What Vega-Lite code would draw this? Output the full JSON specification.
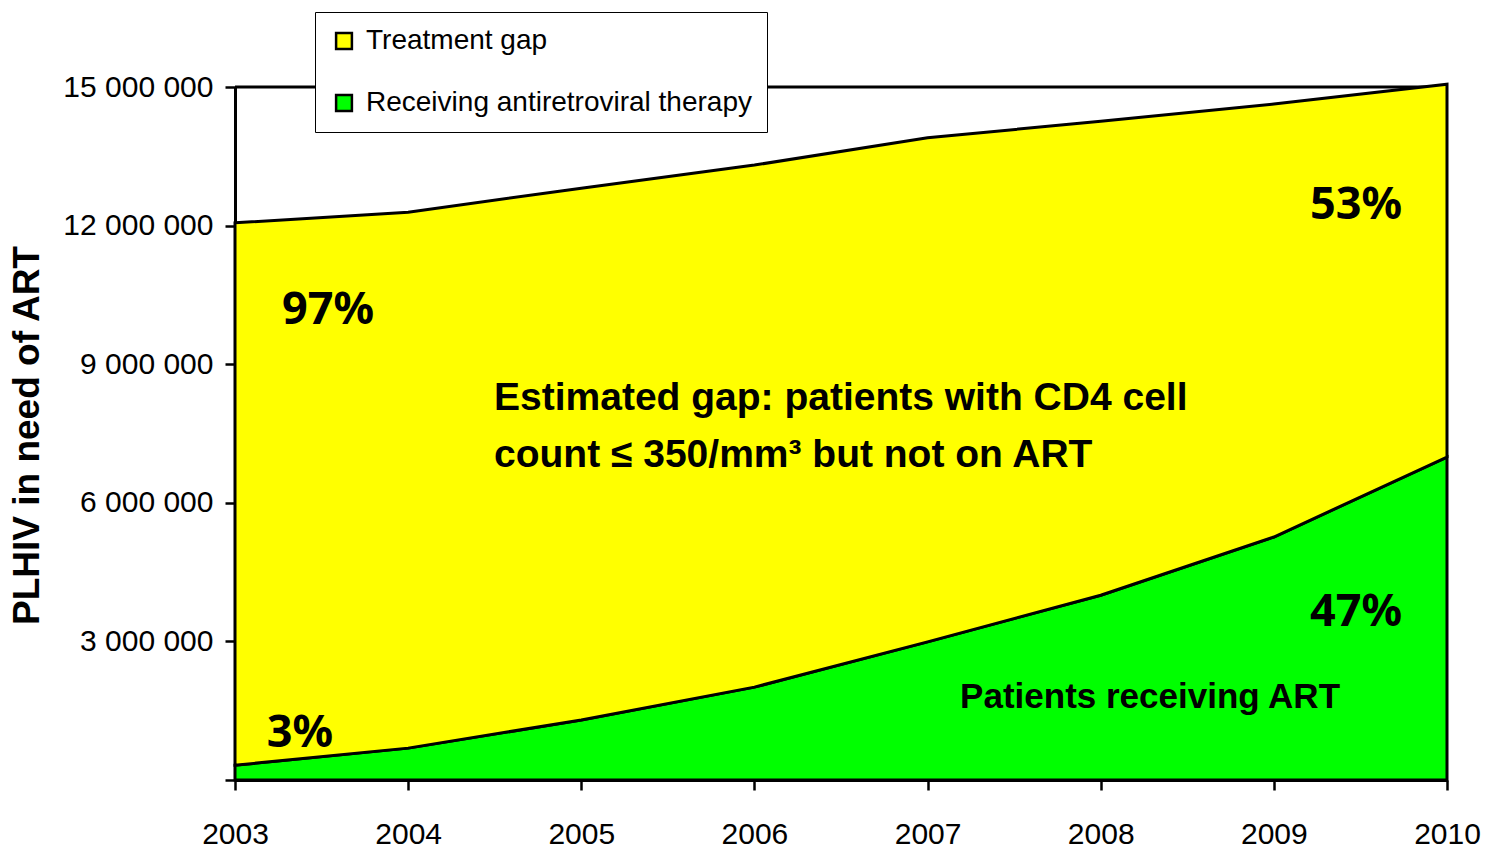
{
  "$schema": "https://vega.github.io/schema/vega-lite/v6.json",
  "width": 1212,
  "height": 693,
  "autosize": "none",
  "padding": {"left": 235, "top": 87, "right": 43, "bottom": 77},
  "background": "white",
  "config": {
    "view": {"stroke": null}
  },
  "datasets": {
    "coverage": [
      {"year": 2003, "series": "Receiving antiretroviral therapy", "value": 320000},
      {"year": 2004, "series": "Receiving antiretroviral therapy", "value": 690000},
      {"year": 2005, "series": "Receiving antiretroviral therapy", "value": 1300000},
      {"year": 2006, "series": "Receiving antiretroviral therapy", "value": 2010000},
      {"year": 2007, "series": "Receiving antiretroviral therapy", "value": 2990000},
      {"year": 2008, "series": "Receiving antiretroviral therapy", "value": 4000000},
      {"year": 2009, "series": "Receiving antiretroviral therapy", "value": 5260000},
      {"year": 2010, "series": "Receiving antiretroviral therapy", "value": 6990000},
      {"year": 2003, "series": "Treatment gap", "value": 11740000},
      {"year": 2004, "series": "Treatment gap", "value": 11600000},
      {"year": 2005, "series": "Treatment gap", "value": 11510000},
      {"year": 2006, "series": "Treatment gap", "value": 11300000},
      {"year": 2007, "series": "Treatment gap", "value": 10910000},
      {"year": 2008, "series": "Treatment gap", "value": 10260000},
      {"year": 2009, "series": "Treatment gap", "value": 9370000},
      {"year": 2010, "series": "Treatment gap", "value": 8070000}
    ],
    "percents": [
      {"year": 2003.537, "value": 10170000, "text": "97%"},
      {"year": 2003.375, "value": 1017000, "text": "3%"},
      {"year": 2009.474, "value": 12450000, "text": "53%"},
      {"year": 2009.474, "value": 3640000, "text": "47%"}
    ],
    "notes": [
      {"year": 2008.285, "value": 1800000, "text": "Patients receiving ART"}
    ],
    "gapnote": [
      {"year": 2004.496, "value": 8270000, "text": "Estimated gap: patients with CD4 cell"},
      {"year": 2004.496, "value": 7030000, "text": "count ≤ 350/mm³  but not on ART"}
    ],
    "top": [
      {"value": 15000000}
    ]
  },
  "layer": [
    {
      "data": {"name": "top"},
      "mark": {"type": "rule", "color": "black", "strokeWidth": 3},
      "encoding": {"y": {"field": "value", "type": "quantitative"}}
    },
    {
      "data": {"name": "coverage"},
      "mark": {"type": "area", "stroke": "black", "strokeWidth": 3, "opacity": 1},
      "encoding": {
        "x": {
          "field": "year", "type": "quantitative",
          "scale": {"domain": [2003, 2010], "nice": false, "zero": false},
          "axis": {
            "values": [2003, 2004, 2005, 2006, 2007, 2008, 2009, 2010],
            "format": "d", "title": null, "grid": false,
            "labelFont": "Liberation Sans Narrow, Arial Narrow, Liberation Sans, sans-serif",
            "labelFontSize": 30, "labelColor": "black", "labelPadding": 29,
            "labelFlush": false, "labelOverlap": false,
            "tickColor": "black", "tickSize": 10, "tickWidth": 2.5,
            "domainColor": "black", "domainWidth": 3
          }
        },
        "y": {
          "field": "value", "type": "quantitative", "stack": "zero",
          "scale": {"domain": [0, 15000000], "nice": false},
          "axis": {
            "values": [0, 3000000, 6000000, 9000000, 12000000, 15000000],
            "labelExpr": "datum.value == 0 ? '' : replace(replace(format(datum.value, ','), ',', ' '), ',', ' ')",
            "grid": false,
            "labelFont": "Liberation Sans Narrow, Arial Narrow, Liberation Sans, sans-serif",
            "labelFontSize": 30, "labelColor": "black", "labelPadding": 12,
            "tickColor": "black", "tickSize": 10, "tickWidth": 2.5,
            "domainColor": "black", "domainWidth": 3,
            "title": "PLHIV in need of ART",
            "titleFont": "Liberation Sans, Arial, sans-serif",
            "titleFontWeight": "bold", "titleFontSize": 37, "titleColor": "black",
            "titleAngle": -90, "titleX": -208, "titleY": 348,
            "titleAlign": "center", "titleBaseline": "middle"
          }
        },
        "color": {
          "field": "series", "type": "nominal",
          "scale": {"domain": ["Treatment gap", "Receiving antiretroviral therapy"], "range": ["#FFFF00", "#00FF00"]},
          "legend": {
            "title": null, "orient": "none", "legendX": 80, "legendY": -75,
            "fillColor": "white", "strokeColor": "black",
            "padding": 15, "rowPadding": 34,
            "symbolType": "square", "symbolSize": 250,
            "symbolStrokeColor": "black", "symbolStrokeWidth": 2.5, "symbolOpacity": 1,
            "labelFont": "Liberation Sans Narrow, Arial Narrow, Liberation Sans, sans-serif",
            "labelFontSize": 28, "labelColor": "black", "labelOffset": 8,
            "labelLimit": 600
          }
        },
        "order": {"field": "series", "sort": "ascending"}
      }
    },
    {
      "data": {"name": "percents"},
      "mark": {"type": "text", "font": "Noto Sans", "fontWeight": "bold", "fontSize": 45, "color": "black", "align": "center", "baseline": "middle"},
      "encoding": {
        "x": {"field": "year", "type": "quantitative"},
        "y": {"field": "value", "type": "quantitative"},
        "text": {"field": "text"}
      }
    },
    {
      "data": {"name": "notes"},
      "mark": {"type": "text", "font": "Liberation Sans Narrow, Arial Narrow, Liberation Sans, sans-serif", "fontWeight": "bold", "fontSize": 35, "color": "black", "align": "center", "baseline": "middle"},
      "encoding": {
        "x": {"field": "year", "type": "quantitative"},
        "y": {"field": "value", "type": "quantitative"},
        "text": {"field": "text"}
      }
    },
    {
      "data": {"name": "gapnote"},
      "mark": {"type": "text", "font": "Liberation Sans Narrow, Arial Narrow, Liberation Sans, sans-serif", "fontWeight": "bold", "fontSize": 39, "color": "black", "align": "left", "baseline": "middle"},
      "encoding": {
        "x": {"field": "year", "type": "quantitative"},
        "y": {"field": "value", "type": "quantitative"},
        "text": {"field": "text"}
      }
    }
  ]
}
